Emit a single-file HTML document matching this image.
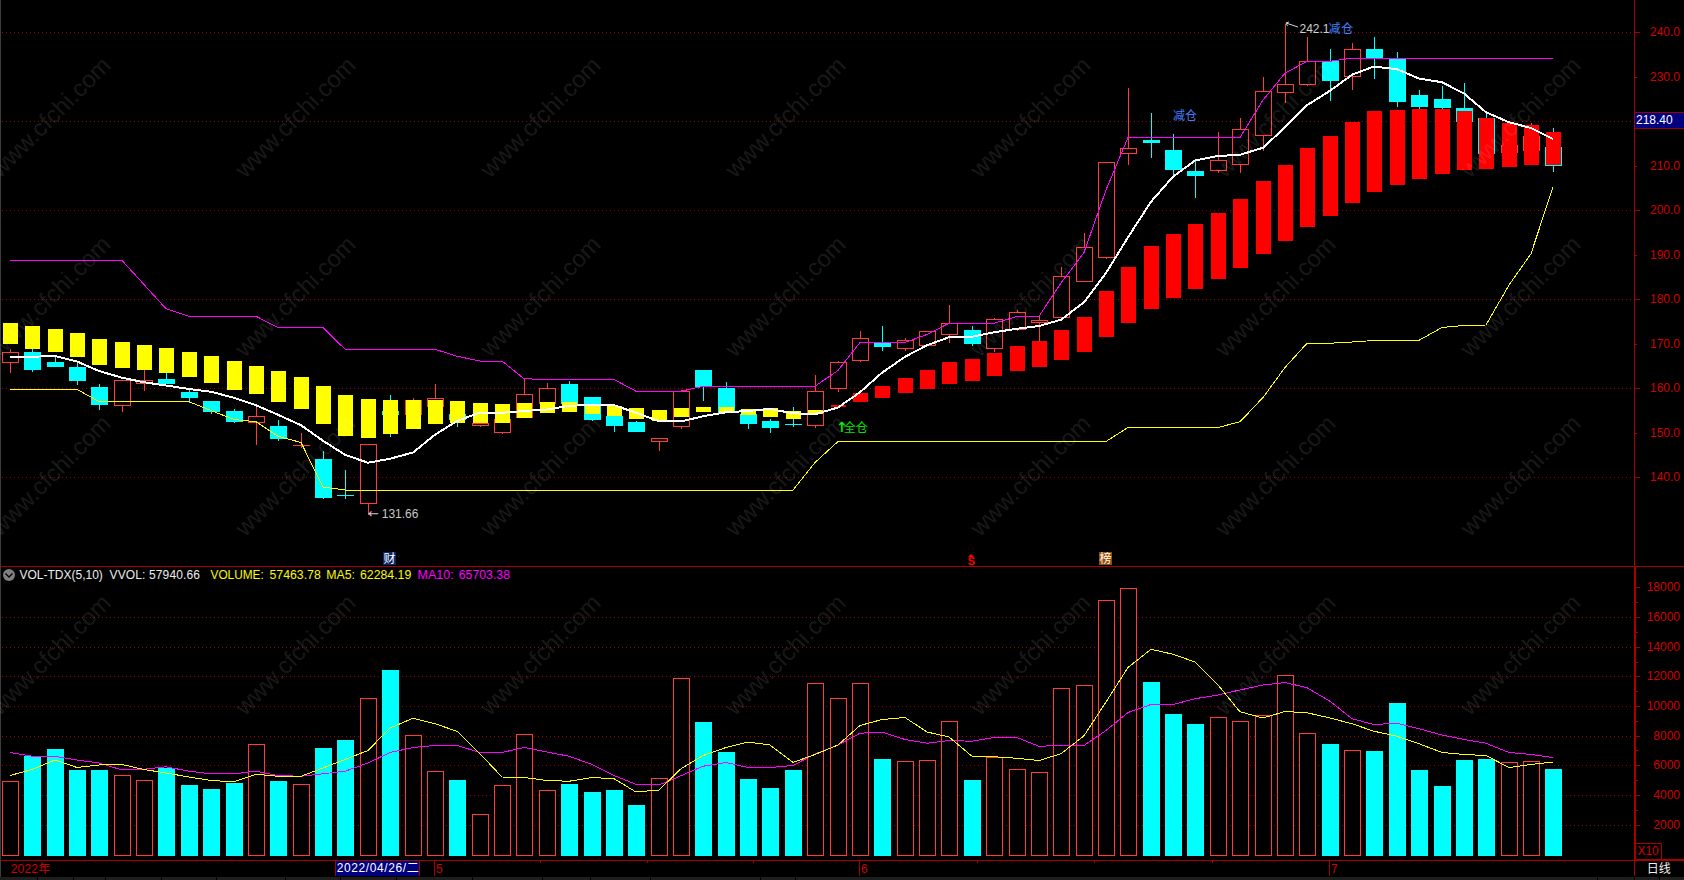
<!DOCTYPE html>
<html><head><meta charset="utf-8"><title>chart</title>
<style>html,body{margin:0;padding:0;background:#000;overflow:hidden}svg{display:block}</style>
</head><body><svg width="1684" height="880" viewBox="0 0 1684 880"><g shape-rendering="crispEdges">
<rect x="0" y="0" width="1" height="877" fill="#3c3c3c"/>
<g stroke="#a00000" stroke-width="1" stroke-dasharray="1 3">
<line x1="2" y1="32.5" x2="1632" y2="32.5"/>
<line x1="2" y1="121.5" x2="1632" y2="121.5"/>
<line x1="2" y1="210.5" x2="1632" y2="210.5"/>
<line x1="2" y1="299.5" x2="1632" y2="299.5"/>
<line x1="2" y1="388.5" x2="1632" y2="388.5"/>
<line x1="2" y1="477.5" x2="1632" y2="477.5"/>
<line x1="2" y1="617.5" x2="1632" y2="617.5"/>
<line x1="2" y1="647.5" x2="1632" y2="647.5"/>
<line x1="2" y1="676.5" x2="1632" y2="676.5"/>
<line x1="2" y1="706.5" x2="1632" y2="706.5"/>
<line x1="2" y1="736.5" x2="1632" y2="736.5"/>
<line x1="2" y1="765.5" x2="1632" y2="765.5"/>
<line x1="2" y1="795.5" x2="1632" y2="795.5"/>
<line x1="2" y1="825.5" x2="1632" y2="825.5"/>
</g>
<rect x="10" y="349" width="1" height="24" fill="#ff3c3c"/>
<rect x="2.5" y="352.5" width="16" height="10" fill="#000" stroke="#ff3c3c" stroke-width="1"/>
<rect x="32" y="349" width="1" height="23" fill="#00ffff"/>
<rect x="24" y="352" width="17" height="18" fill="#00ffff"/>
<rect x="55" y="355" width="1" height="12" fill="#00ffff"/>
<rect x="47" y="362" width="17" height="5" fill="#00ffff"/>
<rect x="77" y="363" width="1" height="22" fill="#00ffff"/>
<rect x="69" y="367" width="17" height="14" fill="#00ffff"/>
<rect x="99" y="384" width="1" height="26" fill="#00ffff"/>
<rect x="91" y="387" width="17" height="18" fill="#00ffff"/>
<rect x="122" y="381" width="1" height="31" fill="#ff3c3c"/>
<rect x="114.5" y="380.5" width="16" height="25" fill="#000" stroke="#ff3c3c" stroke-width="1"/>
<rect x="144" y="369" width="1" height="22" fill="#ff3c3c"/>
<rect x="136.5" y="380.5" width="16" height="3" fill="#000" stroke="#ff3c3c" stroke-width="1"/>
<rect x="166" y="373" width="1" height="11" fill="#00ffff"/>
<rect x="158" y="379" width="17" height="5" fill="#00ffff"/>
<rect x="189" y="389" width="1" height="14" fill="#00ffff"/>
<rect x="181" y="392" width="17" height="6" fill="#00ffff"/>
<rect x="211" y="401" width="1" height="13" fill="#00ffff"/>
<rect x="203" y="401" width="17" height="11" fill="#00ffff"/>
<rect x="234" y="409" width="1" height="14" fill="#00ffff"/>
<rect x="226" y="411" width="17" height="11" fill="#00ffff"/>
<rect x="256" y="407" width="1" height="38" fill="#ff3c3c"/>
<rect x="248.5" y="416.5" width="16" height="6" fill="#000" stroke="#ff3c3c" stroke-width="1"/>
<rect x="278" y="420" width="1" height="21" fill="#00ffff"/>
<rect x="270" y="426" width="17" height="13" fill="#00ffff"/>
<rect x="301" y="433" width="1" height="15" fill="#ff3c3c"/>
<rect x="293" y="445" width="17" height="1" fill="#ff3c3c"/>
<rect x="323" y="451" width="1" height="48" fill="#00ffff"/>
<rect x="315" y="459" width="17" height="39" fill="#00ffff"/>
<rect x="345" y="470" width="1" height="29" fill="#00ffff"/>
<rect x="337" y="495" width="17" height="1" fill="#00ffff"/>
<rect x="368" y="445" width="1" height="70" fill="#ff3c3c"/>
<rect x="360.5" y="444.5" width="16" height="59" fill="#000" stroke="#ff3c3c" stroke-width="1"/>
<rect x="390" y="395" width="1" height="42" fill="#00ffff"/>
<rect x="382" y="411" width="17" height="4" fill="#00ffff"/>
<rect x="413" y="398" width="1" height="17" fill="#ff3c3c"/>
<rect x="405.5" y="400.5" width="16" height="14" fill="#000" stroke="#ff3c3c" stroke-width="1"/>
<rect x="435" y="384" width="1" height="23" fill="#ff3c3c"/>
<rect x="427.5" y="398.5" width="16" height="8" fill="#000" stroke="#ff3c3c" stroke-width="1"/>
<rect x="457" y="414" width="1" height="13" fill="#00ffff"/>
<rect x="449" y="414" width="17" height="6" fill="#00ffff"/>
<rect x="480" y="423" width="1" height="4" fill="#ff3c3c"/>
<rect x="472.5" y="423.5" width="16" height="2" fill="#000" stroke="#ff3c3c" stroke-width="1"/>
<rect x="502" y="419" width="1" height="15" fill="#ff3c3c"/>
<rect x="494.5" y="419.5" width="16" height="13" fill="#000" stroke="#ff3c3c" stroke-width="1"/>
<rect x="524" y="379" width="1" height="39" fill="#ff3c3c"/>
<rect x="516.5" y="394.5" width="16" height="23" fill="#000" stroke="#ff3c3c" stroke-width="1"/>
<rect x="547" y="383" width="1" height="21" fill="#ff3c3c"/>
<rect x="539.5" y="388.5" width="16" height="15" fill="#000" stroke="#ff3c3c" stroke-width="1"/>
<rect x="569" y="381" width="1" height="23" fill="#00ffff"/>
<rect x="561" y="384" width="17" height="20" fill="#00ffff"/>
<rect x="592" y="397" width="1" height="24" fill="#00ffff"/>
<rect x="584" y="397" width="17" height="23" fill="#00ffff"/>
<rect x="614" y="416" width="1" height="16" fill="#00ffff"/>
<rect x="606" y="416" width="17" height="10" fill="#00ffff"/>
<rect x="636" y="421" width="1" height="11" fill="#00ffff"/>
<rect x="628" y="422" width="17" height="10" fill="#00ffff"/>
<rect x="659" y="438" width="1" height="13" fill="#ff3c3c"/>
<rect x="651.5" y="438.5" width="16" height="3" fill="#000" stroke="#ff3c3c" stroke-width="1"/>
<rect x="681" y="390" width="1" height="39" fill="#ff3c3c"/>
<rect x="673.5" y="391.5" width="16" height="35" fill="#000" stroke="#ff3c3c" stroke-width="1"/>
<rect x="703" y="370" width="1" height="31" fill="#00ffff"/>
<rect x="695" y="370" width="17" height="17" fill="#00ffff"/>
<rect x="726" y="382" width="1" height="31" fill="#00ffff"/>
<rect x="718" y="388" width="17" height="25" fill="#00ffff"/>
<rect x="748" y="414" width="1" height="15" fill="#00ffff"/>
<rect x="740" y="414" width="17" height="10" fill="#00ffff"/>
<rect x="770" y="419" width="1" height="14" fill="#00ffff"/>
<rect x="762" y="421" width="17" height="7" fill="#00ffff"/>
<rect x="793" y="407" width="1" height="20" fill="#00ffff"/>
<rect x="785" y="424" width="17" height="1" fill="#00ffff"/>
<rect x="815" y="375" width="1" height="53" fill="#ff3c3c"/>
<rect x="807.5" y="391.5" width="16" height="34" fill="#000" stroke="#ff3c3c" stroke-width="1"/>
<rect x="838" y="361" width="1" height="31" fill="#ff3c3c"/>
<rect x="830.5" y="362.5" width="16" height="26" fill="#000" stroke="#ff3c3c" stroke-width="1"/>
<rect x="860" y="331" width="1" height="31" fill="#ff3c3c"/>
<rect x="852.5" y="338.5" width="16" height="22" fill="#000" stroke="#ff3c3c" stroke-width="1"/>
<rect x="882" y="326" width="1" height="25" fill="#00ffff"/>
<rect x="874" y="343" width="17" height="4" fill="#00ffff"/>
<rect x="905" y="338" width="1" height="13" fill="#ff3c3c"/>
<rect x="897.5" y="340.5" width="16" height="8" fill="#000" stroke="#ff3c3c" stroke-width="1"/>
<rect x="927" y="331" width="1" height="15" fill="#ff3c3c"/>
<rect x="919.5" y="331.5" width="16" height="14" fill="#000" stroke="#ff3c3c" stroke-width="1"/>
<rect x="949" y="305" width="1" height="38" fill="#ff3c3c"/>
<rect x="941.5" y="323.5" width="16" height="11" fill="#000" stroke="#ff3c3c" stroke-width="1"/>
<rect x="972" y="326" width="1" height="20" fill="#00ffff"/>
<rect x="964" y="330" width="17" height="14" fill="#00ffff"/>
<rect x="994" y="318" width="1" height="34" fill="#ff3c3c"/>
<rect x="986.5" y="319.5" width="16" height="29" fill="#000" stroke="#ff3c3c" stroke-width="1"/>
<rect x="1017" y="310" width="1" height="21" fill="#ff3c3c"/>
<rect x="1009.5" y="312.5" width="16" height="17" fill="#000" stroke="#ff3c3c" stroke-width="1"/>
<rect x="1039" y="316" width="1" height="25" fill="#ff3c3c"/>
<rect x="1031.5" y="320.5" width="16" height="2" fill="#000" stroke="#ff3c3c" stroke-width="1"/>
<rect x="1061" y="267" width="1" height="51" fill="#ff3c3c"/>
<rect x="1053.5" y="276.5" width="16" height="41" fill="#000" stroke="#ff3c3c" stroke-width="1"/>
<rect x="1084" y="233" width="1" height="49" fill="#ff3c3c"/>
<rect x="1076.5" y="247.5" width="16" height="34" fill="#000" stroke="#ff3c3c" stroke-width="1"/>
<rect x="1106" y="163" width="1" height="96" fill="#ff3c3c"/>
<rect x="1098.5" y="162.5" width="16" height="95" fill="#000" stroke="#ff3c3c" stroke-width="1"/>
<rect x="1128" y="88" width="1" height="77" fill="#ff3c3c"/>
<rect x="1120.5" y="148.5" width="16" height="5" fill="#000" stroke="#ff3c3c" stroke-width="1"/>
<rect x="1151" y="113" width="1" height="45" fill="#00ffff"/>
<rect x="1143" y="140" width="17" height="3" fill="#00ffff"/>
<rect x="1173" y="134" width="1" height="41" fill="#00ffff"/>
<rect x="1165" y="150" width="17" height="20" fill="#00ffff"/>
<rect x="1195" y="159" width="1" height="39" fill="#00ffff"/>
<rect x="1187" y="171" width="17" height="5" fill="#00ffff"/>
<rect x="1218" y="132" width="1" height="41" fill="#ff3c3c"/>
<rect x="1210.5" y="160.5" width="16" height="10" fill="#000" stroke="#ff3c3c" stroke-width="1"/>
<rect x="1240" y="118" width="1" height="55" fill="#ff3c3c"/>
<rect x="1232.5" y="129.5" width="16" height="35" fill="#000" stroke="#ff3c3c" stroke-width="1"/>
<rect x="1263" y="77" width="1" height="74" fill="#ff3c3c"/>
<rect x="1255.5" y="91.5" width="16" height="44" fill="#000" stroke="#ff3c3c" stroke-width="1"/>
<rect x="1285" y="24" width="1" height="79" fill="#ff3c3c"/>
<rect x="1277.5" y="84.5" width="16" height="8" fill="#000" stroke="#ff3c3c" stroke-width="1"/>
<rect x="1307" y="37" width="1" height="49" fill="#ff3c3c"/>
<rect x="1299.5" y="61.5" width="16" height="23" fill="#000" stroke="#ff3c3c" stroke-width="1"/>
<rect x="1330" y="49" width="1" height="52" fill="#00ffff"/>
<rect x="1322" y="61" width="17" height="20" fill="#00ffff"/>
<rect x="1352" y="43" width="1" height="47" fill="#ff3c3c"/>
<rect x="1344.5" y="49.5" width="16" height="27" fill="#000" stroke="#ff3c3c" stroke-width="1"/>
<rect x="1374" y="37" width="1" height="42" fill="#00ffff"/>
<rect x="1366" y="49" width="17" height="9" fill="#00ffff"/>
<rect x="1397" y="52" width="1" height="55" fill="#00ffff"/>
<rect x="1389" y="59" width="17" height="43" fill="#00ffff"/>
<rect x="1419" y="90" width="1" height="19" fill="#00ffff"/>
<rect x="1411" y="95" width="17" height="12" fill="#00ffff"/>
<rect x="1442" y="86" width="1" height="23" fill="#00ffff"/>
<rect x="1434" y="99" width="17" height="9" fill="#00ffff"/>
<rect x="1464" y="83" width="1" height="39" fill="#00ffff"/>
<rect x="1456" y="108" width="17" height="14" fill="#00ffff"/>
<rect x="1486" y="114" width="1" height="40" fill="#00ffff"/>
<rect x="1478" y="118" width="17" height="36" fill="#00ffff"/>
<rect x="1509" y="123" width="1" height="30" fill="#ff3c3c"/>
<rect x="1501.5" y="145.5" width="16" height="7" fill="#000" stroke="#ff3c3c" stroke-width="1"/>
<rect x="1531" y="123" width="1" height="28" fill="#ff3c3c"/>
<rect x="1523.5" y="136.5" width="16" height="14" fill="#000" stroke="#ff3c3c" stroke-width="1"/>
<rect x="1553" y="128" width="1" height="44" fill="#00ffff"/>
<rect x="1545" y="147" width="17" height="19" fill="#00ffff"/>
<rect x="3" y="323" width="15" height="21" fill="#ffff00"/>
<rect x="25" y="326" width="15" height="23" fill="#ffff00"/>
<rect x="48" y="329" width="15" height="23" fill="#ffff00"/>
<rect x="70" y="333" width="15" height="24" fill="#ffff00"/>
<rect x="92" y="339" width="15" height="26" fill="#ffff00"/>
<rect x="115" y="342" width="15" height="26" fill="#ffff00"/>
<rect x="137" y="345" width="15" height="25" fill="#ffff00"/>
<rect x="159" y="348" width="15" height="25" fill="#ffff00"/>
<rect x="182" y="352" width="15" height="25" fill="#ffff00"/>
<rect x="204" y="356" width="15" height="27" fill="#ffff00"/>
<rect x="227" y="361" width="15" height="29" fill="#ffff00"/>
<rect x="249" y="366" width="15" height="28" fill="#ffff00"/>
<rect x="271" y="371" width="15" height="31" fill="#ffff00"/>
<rect x="294" y="377" width="15" height="32" fill="#ffff00"/>
<rect x="316" y="386" width="15" height="38" fill="#ffff00"/>
<rect x="338" y="395" width="15" height="41" fill="#ffff00"/>
<rect x="361" y="399" width="15" height="39" fill="#ffff00"/>
<rect x="383" y="400" width="15" height="34" fill="#ffff00"/>
<rect x="406" y="400" width="15" height="29" fill="#ffff00"/>
<rect x="428" y="400" width="15" height="24" fill="#ffff00"/>
<rect x="450" y="401" width="15" height="22" fill="#ffff00"/>
<rect x="473" y="403" width="15" height="20" fill="#ffff00"/>
<rect x="495" y="404" width="15" height="19" fill="#ffff00"/>
<rect x="517" y="403" width="15" height="15" fill="#ffff00"/>
<rect x="540" y="402" width="15" height="11" fill="#ffff00"/>
<rect x="562" y="402" width="15" height="10" fill="#ffff00"/>
<rect x="585" y="404" width="15" height="10" fill="#ffff00"/>
<rect x="607" y="406" width="15" height="10" fill="#ffff00"/>
<rect x="629" y="408" width="15" height="11" fill="#ffff00"/>
<rect x="652" y="410" width="15" height="11" fill="#ffff00"/>
<rect x="674" y="408" width="15" height="9" fill="#ffff00"/>
<rect x="696" y="407" width="15" height="5" fill="#ffff00"/>
<rect x="719" y="407" width="15" height="5" fill="#ffff00"/>
<rect x="741" y="409" width="15" height="6" fill="#ffff00"/>
<rect x="763" y="408" width="15" height="9" fill="#ffff00"/>
<rect x="786" y="411" width="15" height="8" fill="#ffff00"/>
<rect x="808" y="410" width="15" height="4" fill="#ffff00"/>
<rect x="831" y="405" width="15" height="2" fill="#ff0000"/>
<rect x="853" y="393" width="15" height="9" fill="#ff0000"/>
<rect x="875" y="386" width="15" height="12" fill="#ff0000"/>
<rect x="898" y="378" width="15" height="15" fill="#ff0000"/>
<rect x="920" y="370" width="15" height="19" fill="#ff0000"/>
<rect x="942" y="362" width="15" height="22" fill="#ff0000"/>
<rect x="965" y="359" width="15" height="22" fill="#ff0000"/>
<rect x="987" y="353" width="15" height="23" fill="#ff0000"/>
<rect x="1010" y="346" width="15" height="25" fill="#ff0000"/>
<rect x="1032" y="341" width="15" height="26" fill="#ff0000"/>
<rect x="1054" y="330" width="15" height="30" fill="#ff0000"/>
<rect x="1077" y="317" width="15" height="35" fill="#ff0000"/>
<rect x="1099" y="291" width="15" height="46" fill="#ff0000"/>
<rect x="1121" y="267" width="15" height="56" fill="#ff0000"/>
<rect x="1144" y="246" width="15" height="63" fill="#ff0000"/>
<rect x="1166" y="234" width="15" height="64" fill="#ff0000"/>
<rect x="1188" y="224" width="15" height="65" fill="#ff0000"/>
<rect x="1211" y="213" width="15" height="66" fill="#ff0000"/>
<rect x="1233" y="199" width="15" height="69" fill="#ff0000"/>
<rect x="1256" y="181" width="15" height="73" fill="#ff0000"/>
<rect x="1278" y="165" width="15" height="76" fill="#ff0000"/>
<rect x="1300" y="148" width="15" height="79" fill="#ff0000"/>
<rect x="1323" y="136" width="15" height="80" fill="#ff0000"/>
<rect x="1345" y="122" width="15" height="81" fill="#ff0000"/>
<rect x="1367" y="111" width="15" height="81" fill="#ff0000"/>
<rect x="1390" y="110" width="15" height="75" fill="#ff0000"/>
<rect x="1412" y="109" width="15" height="70" fill="#ff0000"/>
<rect x="1435" y="109" width="15" height="65" fill="#ff0000"/>
<rect x="1457" y="111" width="15" height="59" fill="#ff0000"/>
<rect x="1479" y="118" width="15" height="51" fill="#ff0000"/>
<rect x="1502" y="123" width="15" height="44" fill="#ff0000"/>
<rect x="1524" y="125" width="15" height="40" fill="#ff0000"/>
<rect x="1546" y="132" width="15" height="33" fill="#ff0000"/>
<rect x="2.5" y="781.5" width="16" height="74" fill="#000" stroke="#ff3c3c" stroke-width="1"/>
<rect x="24" y="756" width="17" height="100" fill="#00ffff"/>
<rect x="47" y="749" width="17" height="107" fill="#00ffff"/>
<rect x="69" y="770" width="17" height="86" fill="#00ffff"/>
<rect x="91" y="770" width="17" height="86" fill="#00ffff"/>
<rect x="114.5" y="775.5" width="16" height="80" fill="#000" stroke="#ff3c3c" stroke-width="1"/>
<rect x="136.5" y="780.5" width="16" height="75" fill="#000" stroke="#ff3c3c" stroke-width="1"/>
<rect x="158" y="768" width="17" height="88" fill="#00ffff"/>
<rect x="181" y="785" width="17" height="71" fill="#00ffff"/>
<rect x="203" y="789" width="17" height="67" fill="#00ffff"/>
<rect x="226" y="783" width="17" height="73" fill="#00ffff"/>
<rect x="248.5" y="744.5" width="16" height="111" fill="#000" stroke="#ff3c3c" stroke-width="1"/>
<rect x="270" y="781" width="17" height="75" fill="#00ffff"/>
<rect x="293.5" y="784.5" width="16" height="71" fill="#000" stroke="#ff3c3c" stroke-width="1"/>
<rect x="315" y="748" width="17" height="108" fill="#00ffff"/>
<rect x="337" y="740" width="17" height="116" fill="#00ffff"/>
<rect x="360.5" y="698.5" width="16" height="157" fill="#000" stroke="#ff3c3c" stroke-width="1"/>
<rect x="382" y="670" width="17" height="186" fill="#00ffff"/>
<rect x="405.5" y="735.5" width="16" height="120" fill="#000" stroke="#ff3c3c" stroke-width="1"/>
<rect x="427.5" y="771.5" width="16" height="84" fill="#000" stroke="#ff3c3c" stroke-width="1"/>
<rect x="449" y="780" width="17" height="76" fill="#00ffff"/>
<rect x="472.5" y="814.5" width="16" height="41" fill="#000" stroke="#ff3c3c" stroke-width="1"/>
<rect x="494.5" y="785.5" width="16" height="70" fill="#000" stroke="#ff3c3c" stroke-width="1"/>
<rect x="516.5" y="734.5" width="16" height="121" fill="#000" stroke="#ff3c3c" stroke-width="1"/>
<rect x="539.5" y="790.5" width="16" height="65" fill="#000" stroke="#ff3c3c" stroke-width="1"/>
<rect x="561" y="784" width="17" height="72" fill="#00ffff"/>
<rect x="584" y="792" width="17" height="64" fill="#00ffff"/>
<rect x="606" y="790" width="17" height="66" fill="#00ffff"/>
<rect x="628" y="805" width="17" height="51" fill="#00ffff"/>
<rect x="651.5" y="778.5" width="16" height="77" fill="#000" stroke="#ff3c3c" stroke-width="1"/>
<rect x="673.5" y="678.5" width="16" height="177" fill="#000" stroke="#ff3c3c" stroke-width="1"/>
<rect x="695" y="722" width="17" height="134" fill="#00ffff"/>
<rect x="718" y="752" width="17" height="104" fill="#00ffff"/>
<rect x="740" y="779" width="17" height="77" fill="#00ffff"/>
<rect x="762" y="788" width="17" height="68" fill="#00ffff"/>
<rect x="785" y="770" width="17" height="86" fill="#00ffff"/>
<rect x="807.5" y="683.5" width="16" height="172" fill="#000" stroke="#ff3c3c" stroke-width="1"/>
<rect x="830.5" y="698.5" width="16" height="157" fill="#000" stroke="#ff3c3c" stroke-width="1"/>
<rect x="852.5" y="683.5" width="16" height="172" fill="#000" stroke="#ff3c3c" stroke-width="1"/>
<rect x="874" y="759" width="17" height="97" fill="#00ffff"/>
<rect x="897.5" y="761.5" width="16" height="94" fill="#000" stroke="#ff3c3c" stroke-width="1"/>
<rect x="919.5" y="760.5" width="16" height="95" fill="#000" stroke="#ff3c3c" stroke-width="1"/>
<rect x="941.5" y="721.5" width="16" height="134" fill="#000" stroke="#ff3c3c" stroke-width="1"/>
<rect x="964" y="780" width="17" height="76" fill="#00ffff"/>
<rect x="986.5" y="757.5" width="16" height="98" fill="#000" stroke="#ff3c3c" stroke-width="1"/>
<rect x="1009.5" y="769.5" width="16" height="86" fill="#000" stroke="#ff3c3c" stroke-width="1"/>
<rect x="1031.5" y="772.5" width="16" height="83" fill="#000" stroke="#ff3c3c" stroke-width="1"/>
<rect x="1053.5" y="688.5" width="16" height="167" fill="#000" stroke="#ff3c3c" stroke-width="1"/>
<rect x="1076.5" y="685.5" width="16" height="170" fill="#000" stroke="#ff3c3c" stroke-width="1"/>
<rect x="1098.5" y="600.5" width="16" height="255" fill="#000" stroke="#ff3c3c" stroke-width="1"/>
<rect x="1120.5" y="588.5" width="16" height="267" fill="#000" stroke="#ff3c3c" stroke-width="1"/>
<rect x="1143" y="682" width="17" height="174" fill="#00ffff"/>
<rect x="1165" y="714" width="17" height="142" fill="#00ffff"/>
<rect x="1187" y="724" width="17" height="132" fill="#00ffff"/>
<rect x="1210.5" y="717.5" width="16" height="138" fill="#000" stroke="#ff3c3c" stroke-width="1"/>
<rect x="1232.5" y="721.5" width="16" height="134" fill="#000" stroke="#ff3c3c" stroke-width="1"/>
<rect x="1255.5" y="715.5" width="16" height="140" fill="#000" stroke="#ff3c3c" stroke-width="1"/>
<rect x="1277.5" y="675.5" width="16" height="180" fill="#000" stroke="#ff3c3c" stroke-width="1"/>
<rect x="1299.5" y="733.5" width="16" height="122" fill="#000" stroke="#ff3c3c" stroke-width="1"/>
<rect x="1322" y="744" width="17" height="112" fill="#00ffff"/>
<rect x="1344.5" y="750.5" width="16" height="105" fill="#000" stroke="#ff3c3c" stroke-width="1"/>
<rect x="1366" y="751" width="17" height="105" fill="#00ffff"/>
<rect x="1389" y="703" width="17" height="153" fill="#00ffff"/>
<rect x="1411" y="770" width="17" height="86" fill="#00ffff"/>
<rect x="1434" y="786" width="17" height="70" fill="#00ffff"/>
<rect x="1456" y="760" width="17" height="96" fill="#00ffff"/>
<rect x="1478" y="759" width="17" height="97" fill="#00ffff"/>
<rect x="1501.5" y="762.5" width="16" height="93" fill="#000" stroke="#ff3c3c" stroke-width="1"/>
<rect x="1523.5" y="761.5" width="16" height="94" fill="#000" stroke="#ff3c3c" stroke-width="1"/>
<rect x="1545" y="769" width="17" height="87" fill="#00ffff"/>
<polyline points="10,260.5 32,260.5 55,260.5 77,260.5 99,260.5 122,260.5 144,284.5 166,308.75 189,316.25 211,316.25 234,316.25 256,316.25 278,327.5 301,327.5 323,327.5 345,349.25 368,349.25 390,349.25 413,349.25 435,349.25 457,356.25 480,361 502,361 524,378.75 547,379.5 569,379.5 592,379.5 614,379.5 636,391.25 659,391.25 681,391.25 703,386.25 726,386.25 748,386.25 770,386.25 793,386.25 815,386.25 838,370.5 860,342.5 882,342.5 905,342.5 927,334.5 949,323.25 972,323.25 994,323.25 1017,316.5 1039,316.25 1061,283 1084,252.5 1106,190 1128,137.5 1151,137.5 1173,137.5 1195,137.5 1218,137.5 1240,137.5 1263,100 1285,73.25 1307,61.25 1330,61.25 1352,58.25 1374,58.25 1397,58.25 1419,58.25 1442,58.25 1464,58.25 1486,58.25 1509,58.25 1531,58.25 1553,58.25" fill="none" stroke="#ff00ff" stroke-width="1" stroke-linejoin="round"/>
<polyline points="10,389.25 32,389.25 55,389.25 77,389.25 99,401.75 122,401.75 144,401.75 166,401.75 189,401.75 211,410.5 234,419.5 256,421.75 278,436.25 301,442.5 323,487 345,490 368,490 390,490 413,490 435,490 457,490 480,490 502,490 524,490 547,490 569,490 592,490 614,490 636,490 659,490 681,490 703,490 726,490 748,490 770,490 793,490 815,462.5 838,441.5 860,441.5 882,441.5 905,441.5 927,441.5 949,441.5 972,441.5 994,441.5 1017,441.5 1039,441.5 1061,441.5 1084,441.5 1106,441.5 1128,427.5 1151,427.5 1173,427.5 1195,427.5 1218,427.5 1240,421.75 1263,397.5 1285,367.5 1307,343.25 1330,343.25 1352,342 1374,340.5 1397,340.25 1419,340.25 1442,327.5 1464,325.5 1486,325 1509,285 1531,253.75 1553,187" fill="none" stroke="#ffff00" stroke-width="1" stroke-linejoin="round"/>
<polyline points="10,356.75 32,356.75 55,356.0 77,361.5 99,371.0 122,377.75 144,382.25 166,385.5 189,389.0 211,391.75 234,397.75 256,405.25 278,414.75 301,425.25 323,440.75 345,454.75 368,462.75 390,458.75 413,452.5 435,434.75 457,421.0 480,412.5 502,412.75 524,411.0 547,409.5 569,405.75 592,405.0 614,405.25 636,412.75 659,421.25 681,421.5 703,416.25 726,412.25 748,411.0 770,409.0 793,413.25 815,414.25 838,407.5 860,392.25 882,372.75 905,356.75 927,345.25 949,337.25 972,336.75 994,332.25 1017,328.75 1039,326.0 1061,319.75 1084,302.25 1106,273.0 1128,237.25 1151,201.75 1173,176.75 1195,160.5 1218,156.0 1240,154.75 1263,147.75 1285,127.25 1307,105.25 1330,90.75 1352,74.75 1374,66.5 1397,69.25 1419,78.5 1442,82.25 1464,93.5 1486,112.25 1509,122.25 1531,128.0 1553,139.0" fill="none" stroke="#ffffff" stroke-width="2" stroke-linejoin="round"/>
<polyline points="10,752.5 32,756.25 55,756.25 77,760 99,763 122,770 144,769.25 166,766.75 189,771.25 211,773.75 234,773.75 256,771.25 278,775.5 301,776.25 323,773.75 345,771.25 368,763 390,752.5 413,747.5 435,745.5 457,745.5 480,752.5 502,752.5 524,747.5 547,752 569,756.25 592,764.5 614,775.5 636,784.25 659,785 681,775.75 703,766.25 726,762.5 748,767.5 770,767.5 793,765.5 815,754 838,745 860,733.25 882,732 905,739.5 927,743.25 949,740.5 972,741.25 994,737.5 1017,737.5 1039,746.25 1061,745.5 1084,745.5 1106,730.5 1128,712.5 1151,704.5 1173,704.5 1195,698.75 1218,695 1240,690 1263,685 1285,682.5 1307,687.75 1330,701.25 1352,718.75 1374,724.5 1397,723.25 1419,728.75 1442,735 1464,739.5 1486,743.25 1509,752.5 1531,754.5 1553,757.5" fill="none" stroke="#ff00ff" stroke-width="1" stroke-linejoin="round"/>
<polyline points="10,775.5 32,769.5 55,760 77,767.5 99,765 122,764.5 144,769.5 166,773 189,777 211,780.5 234,781.75 256,774.25 278,776.25 301,776.25 323,768 345,759.5 368,750.5 390,728 413,718.25 435,723.75 457,731.25 480,753.75 502,777 524,777.5 547,780.5 569,781.25 592,777.5 614,778.75 636,792 659,790 681,768.75 703,755.5 726,747.5 748,742 770,745 793,762.5 815,754.5 838,745 860,725.5 882,719.5 905,717.5 927,732 949,737 972,756.25 994,756.75 1017,758.25 1039,760.5 1061,753.75 1084,735.75 1106,702 1128,667.5 1151,649.25 1173,654.25 1195,662 1218,685 1240,711.75 1263,718 1285,711.5 1307,712.75 1330,718 1352,723.75 1374,731.25 1397,736.25 1419,743.75 1442,752.5 1464,754.5 1486,755.5 1509,767.5 1531,764.5 1553,762" fill="none" stroke="#ffff00" stroke-width="1" stroke-linejoin="round"/>
<rect x="1" y="566" width="1683" height="1" fill="#a80000"/>
<rect x="1634" y="0" width="1" height="566" fill="#a80000"/>
<rect x="1634" y="566" width="2" height="295" fill="#a80000"/>
<rect x="1634" y="861" width="1" height="15" fill="#a80000"/>
<rect x="1" y="860" width="1683" height="1" fill="#a80000"/>
<rect x="1636" y="859" width="48" height="1" fill="#a80000"/>
<rect x="1635" y="32" width="5" height="1" fill="#a80000"/>
<rect x="1635" y="77" width="2" height="1" fill="#a80000"/>
<rect x="1635" y="121" width="5" height="1" fill="#a80000"/>
<rect x="1635" y="166" width="2" height="1" fill="#a80000"/>
<rect x="1635" y="210" width="5" height="1" fill="#a80000"/>
<rect x="1635" y="255" width="2" height="1" fill="#a80000"/>
<rect x="1635" y="299" width="5" height="1" fill="#a80000"/>
<rect x="1635" y="344" width="2" height="1" fill="#a80000"/>
<rect x="1635" y="388" width="5" height="1" fill="#a80000"/>
<rect x="1635" y="433" width="2" height="1" fill="#a80000"/>
<rect x="1635" y="477" width="5" height="1" fill="#a80000"/>
<rect x="1636" y="587" width="4" height="1" fill="#a80000"/>
<rect x="1636" y="602" width="2" height="1" fill="#a80000"/>
<rect x="1636" y="617" width="4" height="1" fill="#a80000"/>
<rect x="1636" y="632" width="2" height="1" fill="#a80000"/>
<rect x="1636" y="647" width="4" height="1" fill="#a80000"/>
<rect x="1636" y="662" width="2" height="1" fill="#a80000"/>
<rect x="1636" y="676" width="4" height="1" fill="#a80000"/>
<rect x="1636" y="691" width="2" height="1" fill="#a80000"/>
<rect x="1636" y="706" width="4" height="1" fill="#a80000"/>
<rect x="1636" y="721" width="2" height="1" fill="#a80000"/>
<rect x="1636" y="736" width="4" height="1" fill="#a80000"/>
<rect x="1636" y="750" width="2" height="1" fill="#a80000"/>
<rect x="1636" y="765" width="4" height="1" fill="#a80000"/>
<rect x="1636" y="780" width="2" height="1" fill="#a80000"/>
<rect x="1636" y="795" width="4" height="1" fill="#a80000"/>
<rect x="1636" y="810" width="2" height="1" fill="#a80000"/>
<rect x="1636" y="825" width="4" height="1" fill="#a80000"/>
<rect x="434" y="861" width="1" height="15" fill="#a80000"/>
<rect x="859" y="861" width="1" height="15" fill="#a80000"/>
<rect x="1329" y="861" width="1" height="15" fill="#a80000"/>
<rect x="540" y="861" width="1" height="2" fill="#a80000"/>
<rect x="647" y="861" width="1" height="2" fill="#a80000"/>
<rect x="753" y="861" width="1" height="2" fill="#a80000"/>
<rect x="977" y="861" width="1" height="2" fill="#a80000"/>
<rect x="1094" y="861" width="1" height="2" fill="#a80000"/>
<rect x="1212" y="861" width="1" height="2" fill="#a80000"/>
<rect x="1635" y="112" width="49" height="16" fill="#000080"/>
<rect x="1635" y="112" width="49" height="1" fill="#a00000"/>
<rect x="1635" y="128" width="49" height="1" fill="#a00000"/>
<rect x="1636" y="843" width="26" height="1" fill="#a80000"/>
<rect x="1661" y="843" width="1" height="17" fill="#a80000"/>
<rect x="336" y="861" width="83" height="15" fill="#000080"/>
<rect x="335" y="861" width="1" height="15" fill="#a80000"/>
<rect x="419" y="861" width="1" height="15" fill="#a80000"/>
<rect x="383" y="552" width="13" height="13" fill="#0a246a"/>
<rect x="1099" y="552" width="13" height="13" fill="#9a4a00"/>
<rect x="0" y="877" width="1684" height="3" fill="#1e1e1e"/>
<rect x="37" y="877" width="1" height="3" fill="#000"/>
<rect x="73" y="877" width="1" height="3" fill="#000"/>
<rect x="105" y="877" width="1" height="3" fill="#000"/>
<rect x="161" y="877" width="1" height="3" fill="#000"/>
<rect x="216" y="877" width="1" height="3" fill="#000"/>
<rect x="285" y="877" width="1" height="3" fill="#000"/>
<rect x="340" y="877" width="1" height="3" fill="#000"/>
<rect x="396" y="877" width="1" height="3" fill="#000"/>
<rect x="472" y="877" width="1" height="3" fill="#000"/>
<rect x="542" y="877" width="1" height="3" fill="#000"/>
<rect x="590" y="877" width="1" height="3" fill="#000"/>
<rect x="650" y="877" width="1" height="3" fill="#000"/>
<rect x="760" y="877" width="1" height="3" fill="#000"/>
<rect x="795" y="877" width="1" height="3" fill="#000"/>
<rect x="1597" y="877" width="1" height="3" fill="#000"/>
<rect x="1634" y="877" width="1" height="3" fill="#000"/>
<rect x="1659" y="877" width="1" height="3" fill="#000"/>
</g>
<circle cx="9" cy="575" r="6" fill="#808080"/>
<path d="M5.5 573.5 L9 577 L12.5 573.5" fill="none" stroke="#000" stroke-width="1.3"/>
<g font-family="'Liberation Sans', 'Noto Sans CJK SC', sans-serif" font-size="12">
<text x="1680" y="36.2" text-anchor="end" fill="#d00000">240.0</text>
<text x="1680" y="81.2" text-anchor="end" fill="#d00000">230.0</text>
<text x="1680" y="170.2" text-anchor="end" fill="#d00000">210.0</text>
<text x="1680" y="214.2" text-anchor="end" fill="#d00000">200.0</text>
<text x="1680" y="259.2" text-anchor="end" fill="#d00000">190.0</text>
<text x="1680" y="303.2" text-anchor="end" fill="#d00000">180.0</text>
<text x="1680" y="348.2" text-anchor="end" fill="#d00000">170.0</text>
<text x="1680" y="392.2" text-anchor="end" fill="#d00000">160.0</text>
<text x="1680" y="437.2" text-anchor="end" fill="#d00000">150.0</text>
<text x="1680" y="481.2" text-anchor="end" fill="#d00000">140.0</text>
<text x="1680" y="591.2" text-anchor="end" fill="#d00000">18000</text>
<text x="1680" y="621.2" text-anchor="end" fill="#d00000">16000</text>
<text x="1680" y="651.2" text-anchor="end" fill="#d00000">14000</text>
<text x="1680" y="680.2" text-anchor="end" fill="#d00000">12000</text>
<text x="1680" y="710.2" text-anchor="end" fill="#d00000">10000</text>
<text x="1680" y="740.2" text-anchor="end" fill="#d00000">8000</text>
<text x="1680" y="769.2" text-anchor="end" fill="#d00000">6000</text>
<text x="1680" y="799.2" text-anchor="end" fill="#d00000">4000</text>
<text x="1680" y="829.2" text-anchor="end" fill="#d00000">2000</text>
<text x="1636" y="124" fill="#fff">218.40</text>
<text x="1637.4" y="855" fill="#d00000">X10</text>
<text x="1646.8" y="873" fill="#f0f0f0">日线</text>
<text x="10.75" y="873" fill="#d00000" textLength="39.5">2022年</text>
<text x="336.75" y="872" fill="#fff" textLength="82">2022/04/26/二</text>
<text x="436" y="873" fill="#d00000">5</text>
<text x="861" y="873" fill="#d00000">6</text>
<text x="1331" y="873" fill="#d00000">7</text>
<text x="19.5" y="579" fill="#ececec">VOL-TDX(5,10)</text>
<text x="109.5" y="579" fill="#ececec" textLength="90.5">VVOL: 57940.66</text>
<text x="210.5" y="579" fill="#fafa00" textLength="53.25" lengthAdjust="spacingAndGlyphs">VOLUME:</text>
<text x="269.5" y="579" fill="#fafa00" textLength="51.25" lengthAdjust="spacingAndGlyphs">57463.78</text>
<text x="326.25" y="579" fill="#fafa00" textLength="28.75" lengthAdjust="spacingAndGlyphs">MA5:</text>
<text x="360" y="579" fill="#fafa00" textLength="51.25" lengthAdjust="spacingAndGlyphs">62284.19</text>
<text x="417.5" y="579" fill="#ff00ff" textLength="36.25" lengthAdjust="spacingAndGlyphs">MA10:</text>
<text x="458.75" y="579" fill="#ff00ff" textLength="51.25" lengthAdjust="spacingAndGlyphs">65703.38</text>
<text x="368" y="518" fill="#c8c8c8"><tspan font-family="'DejaVu Sans', sans-serif" font-size="13">←</tspan><tspan x="381.75">131.66</tspan></text>
<text x="1299.5" y="33" fill="#d0d0d0" textLength="30">242.1</text>
<text x="1328.6" y="32.5" fill="#4080ff" textLength="24.6">减仓</text>
<text x="1173" y="119.5" fill="#4080ff">减仓</text>
<text x="835.9" y="432" fill="#00e800"><tspan font-family="'DejaVu Sans', sans-serif" font-weight="bold" font-size="14">↑</tspan><tspan x="843.8" y="431.6" textLength="24">全仓</tspan></text>
<text x="383.5" y="562.5" fill="#fff">财</text>
<text x="1099.5" y="562.5" fill="#fff">榜</text>
<text x="967.7" y="565" fill="#ff0000" font-weight="bold" font-size="11">S</text>
</g>
<path d="M968 557.2 L971 553.8 L974 557.2 Z" fill="#ff0000"/>
<path d="M1286 23 L1298 27 M1286 23 L1289 22 M1286 23 L1287.5 26" stroke="#d0d0d0" stroke-width="1" fill="none"/>
<g font-family="'Liberation Sans', 'Noto Sans CJK SC', sans-serif" font-size="24" fill="#ffffff" fill-opacity="0.118">
<text transform="translate(0,179.0) rotate(-45)">www.cfchi.com</text>
<text transform="translate(245,179.0) rotate(-45)">www.cfchi.com</text>
<text transform="translate(490,179.0) rotate(-45)">www.cfchi.com</text>
<text transform="translate(735,179.0) rotate(-45)">www.cfchi.com</text>
<text transform="translate(980,179.0) rotate(-45)">www.cfchi.com</text>
<text transform="translate(1225,179.0) rotate(-45)">www.cfchi.com</text>
<text transform="translate(1470,179.0) rotate(-45)">www.cfchi.com</text>
<text transform="translate(0,358.2) rotate(-45)">www.cfchi.com</text>
<text transform="translate(245,358.2) rotate(-45)">www.cfchi.com</text>
<text transform="translate(490,358.2) rotate(-45)">www.cfchi.com</text>
<text transform="translate(735,358.2) rotate(-45)">www.cfchi.com</text>
<text transform="translate(980,358.2) rotate(-45)">www.cfchi.com</text>
<text transform="translate(1225,358.2) rotate(-45)">www.cfchi.com</text>
<text transform="translate(1470,358.2) rotate(-45)">www.cfchi.com</text>
<text transform="translate(0,537.4) rotate(-45)">www.cfchi.com</text>
<text transform="translate(245,537.4) rotate(-45)">www.cfchi.com</text>
<text transform="translate(490,537.4) rotate(-45)">www.cfchi.com</text>
<text transform="translate(735,537.4) rotate(-45)">www.cfchi.com</text>
<text transform="translate(980,537.4) rotate(-45)">www.cfchi.com</text>
<text transform="translate(1225,537.4) rotate(-45)">www.cfchi.com</text>
<text transform="translate(1470,537.4) rotate(-45)">www.cfchi.com</text>
<text transform="translate(0,716.6) rotate(-45)">www.cfchi.com</text>
<text transform="translate(245,716.6) rotate(-45)">www.cfchi.com</text>
<text transform="translate(490,716.6) rotate(-45)">www.cfchi.com</text>
<text transform="translate(735,716.6) rotate(-45)">www.cfchi.com</text>
<text transform="translate(980,716.6) rotate(-45)">www.cfchi.com</text>
<text transform="translate(1225,716.6) rotate(-45)">www.cfchi.com</text>
<text transform="translate(1470,716.6) rotate(-45)">www.cfchi.com</text>
</g></svg></body></html>
